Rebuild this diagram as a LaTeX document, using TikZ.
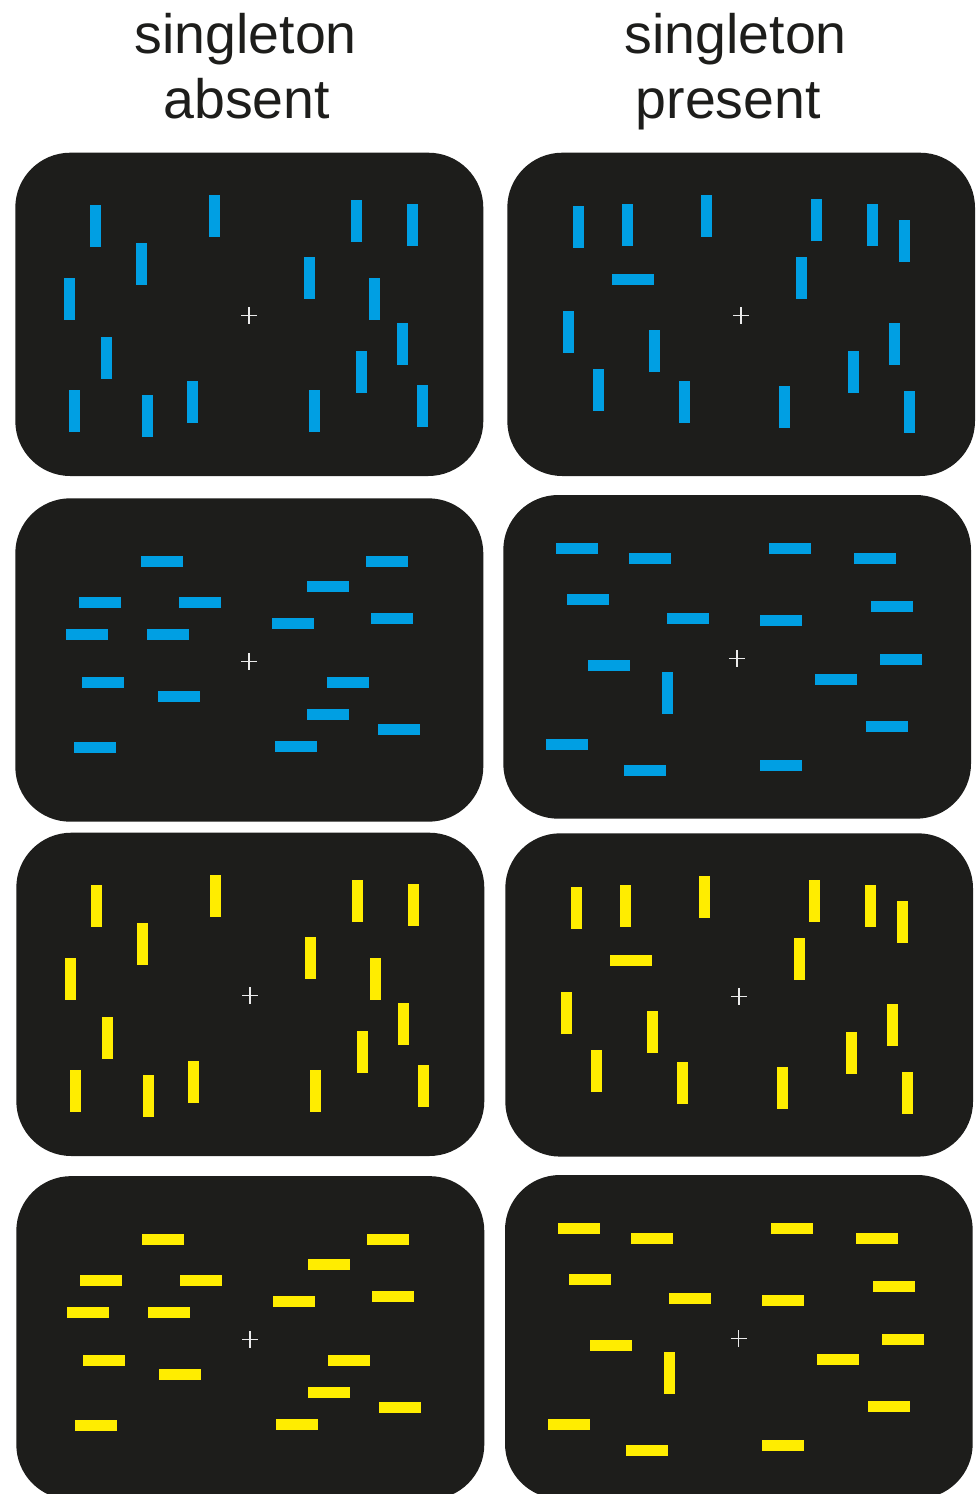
\documentclass[tikz,border=0pt]{standalone}
\usepackage{fontspec}
\setmainfont{Liberation Sans}
\definecolor{panelc}{HTML}{1D1D1B}
\definecolor{cblue}{HTML}{009FE3}
\definecolor{cyellow}{HTML}{FFED00}
\definecolor{txtc}{HTML}{1D1D1B}
\tikzset{
  panelbox/.style={fill=panelc, rounded corners=55pt},
  barfill/.style={fill=cblue},
  fixcross/.style={draw=white!92!black, line width=1.3pt},
  headtxt/.style={font=\fontsize{55.5}{66}\selectfont, text=txtc, anchor=base, inner sep=0pt}
}
\newcommand\vbarsat[1]{\foreach \bx/\by in {#1} {\fill[barfill] (\bx,\by) +(-5.5,-21) rectangle +(5.5,21);}}
\newcommand\hbarsat[1]{\foreach \bx/\by in {#1} {\fill[barfill] (\bx,\by) +(-21,-5.5) rectangle +(21,5.5);}}
\newcommand\fixat[2]{\draw[fixcross] (#1,#2) +(-8,0) -- +(8,0) (#1,#2) +(0,-8.5) -- +(0,8.5);}
% layouts
\newcommand\layoutA{%
  \fill[panelbox] (15.3,152.7) rectangle (483.3,476);
  \vbarsat{95.5/226, 214.5/216, 356.5/221, 412.5/225, 141.5/264, 309.5/278, 69.5/299, 374.5/299, 402.5/344, 106.5/358, 361.5/372, 74.5/411, 147.5/416, 192.5/402, 314.5/411, 422.5/406}
  \fixat{249}{315.7}}
\newcommand\layoutB{%
  \fill[panelbox] (507.3,152.7) rectangle (975,476);
  \vbarsat{578.5/227, 627.5/225, 706.5/216, 816.5/220, 872.5/225, 904.5/241, 801.5/278, 568.5/332, 654.5/351, 894.5/344, 853.5/372, 598.5/390, 684.5/402, 784.5/407, 909.5/412}
  \hbarsat{633/279.5}
  \fixat{741}{315.7}}
\newcommand\layoutC{%
  \fill[panelbox] (15.3,498.3) rectangle (483.3,821.7);
  \hbarsat{162/561.5, 387/561.5, 328/586.5, 100/602.5, 200/602.5, 293/623.5, 392/618.5, 87/634.5, 168/634.5, 103/682.5, 348/682.5, 179/696.5, 328/714.5, 399/729.5, 95/747.5, 296/746.5}
  \fixat{249}{661.7}}
\newcommand\layoutD{%
  \fill[panelbox] (503.3,495) rectangle (971,818.7);
  \hbarsat{577/548.5, 650/558.5, 790/548.5, 875/558.5, 588/599.5, 892/606.5, 688/618.5, 781/620.5, 609/665.5, 901/659.5, 836/679.5, 887/726.5, 567/744.5, 645/770.5, 781/765.5}
  \vbarsat{667.5/693}
  \fixat{737}{658.7}}
\begin{document}
\begin{tikzpicture}[x=1pt,y=-1pt]
\useasboundingbox (0,0) rectangle (977,1494);
\clip (0,0) rectangle (977,1494);
\fill[white] (0,0) rectangle (977,1494);
% headings
\node[headtxt] (h1) at (245.8,53.3) {singleton};
\node[headtxt] (h2) at (246.7,118.8) {absent};
\node[headtxt] (h3) at (735.8,53.3) {singleton};
\node[headtxt] (h4) at (728.3,118.3) {present};
% blue panels
\begin{scope}\layoutA\end{scope}
\begin{scope}\layoutB\end{scope}
\begin{scope}\layoutC\end{scope}
\begin{scope}\layoutD\end{scope}
% yellow panels
\begin{scope}[shift={(1,680)}, barfill/.style={fill=cyellow}]\layoutA\end{scope}
\begin{scope}[shift={(-2,680.6)}, barfill/.style={fill=cyellow}]\layoutB\end{scope}
\begin{scope}[shift={(1,677.8)}, barfill/.style={fill=cyellow}]\layoutC\end{scope}
\begin{scope}[shift={(1.7,680)}, barfill/.style={fill=cyellow}]\layoutD\end{scope}
\end{tikzpicture}
\end{document}
